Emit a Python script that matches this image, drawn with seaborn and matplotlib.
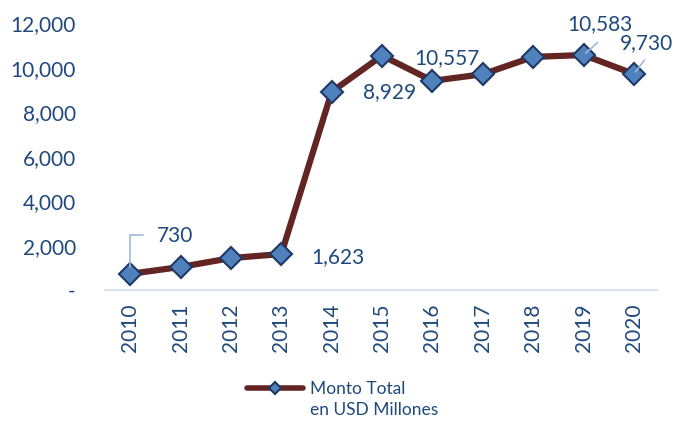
import matplotlib
matplotlib.use("Agg")
import matplotlib.pyplot as plt
import matplotlib.ticker as mticker
import seaborn as sns
import pandas as pd

years = ["2010", "2011", "2012", "2013", "2014", "2015", "2016", "2017", "2018", "2019", "2020"]
values = [730, 1040, 1440, 1623, 8929, 10557, 9420, 9720, 10500, 10583, 9730]
label_texts = {0: "730", 3: "1,623", 4: "8,929", 5: "10,557", 9: "10,583", 10: "9,730"}
series_name = "Monto Total"
series_unit = "en USD Millones"

sns.set_theme(style="white")
plt.rcParams['font.family'] = ['Lato', 'DejaVu Sans']

TXT = "#1F497D"
LINE = "#632523"
MFACE = "#4F81BD"
MEDGE = "#1F3864"

df = pd.DataFrame({"idx": list(range(len(years))), "value": values})

fig = plt.figure(figsize=(6.77, 4.21), dpi=100)
ax = fig.add_axes([0.155, 0.311, 0.815, 0.633])

sns.lineplot(data=df, x="idx", y="value", ax=ax, color=LINE, linewidth=4.5,
             marker="D", markersize=11, markerfacecolor=MFACE,
             markeredgecolor=MEDGE, markeredgewidth=1.5, label=series_name, legend=False)

ax.set_xlim(-0.5, 10.45)
ax.set_ylim(0, 12000)
ax.set_yticks([0, 2000, 4000, 6000, 8000, 10000, 12000])
ax.yaxis.set_major_formatter(mticker.FuncFormatter(lambda v, p: "-" if v == 0 else f"{int(v):,}"))
ax.set_xticks(range(len(years)))
ax.set_xticklabels(years, rotation=90)
ax.tick_params(axis="both", length=0, labelsize=15, labelcolor=TXT)
ax.tick_params(axis="y", pad=21)
ax.tick_params(axis="x", pad=10)
ax.set_xlabel("")
ax.set_ylabel("")
for s in ["top", "right", "left"]:
    ax.spines[s].set_visible(False)
ax.spines["bottom"].set_color("#D9E3F1")
ax.spines["bottom"].set_linewidth(1.5)

offsets = {0: (32, 27), 3: (41, -2), 4: (42, 0), 5: (47, -1.5), 9: (12, 22), 10: (9, 22)}
for i, t in label_texts.items():
    ax.annotate(t, xy=(i, values[i]), xytext=offsets[i], textcoords="offset points",
                ha="center", va="center", fontsize=15, color=TXT)

leader_kw = dict(arrowstyle="-", color="#9DB9DE", lw=1.2)
ax.annotate("", xy=(0, values[0]), xytext=(9.5, 28), textcoords="offset points",
            arrowprops=dict(connectionstyle="angle,angleA=0,angleB=90,rad=0", shrinkA=0, shrinkB=5, **leader_kw))
ax.annotate("", xy=(9, values[9]), xytext=(10, 9), textcoords="offset points",
            arrowprops=dict(shrinkA=0, shrinkB=2, **leader_kw))
ax.annotate("", xy=(10, values[10]), xytext=(7.5, 10), textcoords="offset points",
            arrowprops=dict(shrinkA=0, shrinkB=2, **leader_kw))

handles, labels = ax.get_legend_handles_labels()
leg = fig.legend(handles, labels, loc="center left", bbox_to_anchor=(247 / 677, 1 - 389 / 421),
                 frameon=False, fontsize=12.5, handlelength=3.2, handletextpad=0.45,
                 borderpad=0, borderaxespad=0, labelcolor=TXT, markerscale=0.6)
for h in leg.legend_handles:
    h.set_linewidth(4)
fig.text(310 / 677, 1 - 410 / 421, series_unit, ha="left", va="center", fontsize=12.5, color=TXT)

fig.savefig("out.png", dpi=100)
